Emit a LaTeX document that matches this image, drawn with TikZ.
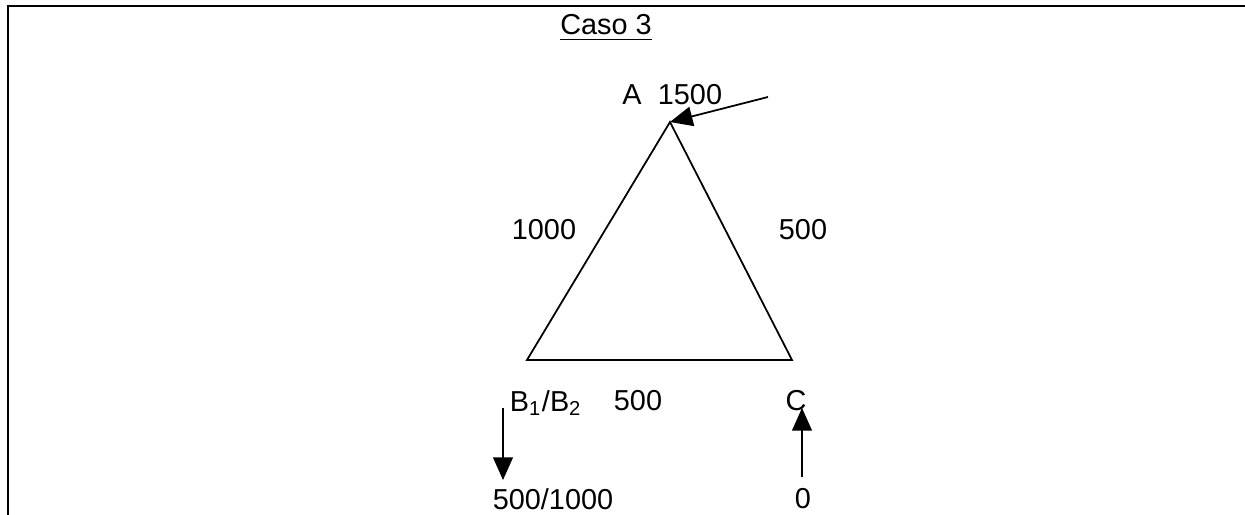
\documentclass[tikz,border=0pt]{standalone}
\usepackage{fontspec}
\setmainfont{Liberation Sans}
\usepackage{tikz}
\usetikzlibrary{arrows.meta}

\begin{document}
\begin{tikzpicture}[
    x=0.01cm, y=-0.01cm,
    lbl/.style={inner sep=0pt, font=\fontsize{8.2}{9.8}\selectfont},
    edge/.style={line width=0.5pt, line join=miter},
    frame/.style={line width=0.65pt},
    arr/.style={-{Triangle[length=6.4pt, width=5.6pt]}, line width=0.5pt},
]
\useasboundingbox (0,0) rectangle (1245,515);

% Frame
\draw[frame] (8,515) -- (8,6) -- (1245,6);

% Title
\node[lbl] (title) at (606,28) {\underline{Caso 3}};

% Triangle vertices
\coordinate (A) at (670,122);
\coordinate (B) at (527,360);
\coordinate (C) at (792,360);
\draw[edge] (A) -- (B) -- (C) -- cycle;

% Labels
\node[lbl] (lA) at (632,95) {A};
\node[lbl] (lAval) at (690,95) {1500};
\node[lbl] (lAB) at (544,230) {1000};
\node[lbl] (lAC) at (803,230) {500};
\node[lbl] (lB) at (546,403) {B\textsubscript{1}/B\textsubscript{2}};
\node[lbl] (lBC) at (638,401) {500};
\node[lbl] (lC) at (796,401) {C};
\node[lbl] (outB) at (553,499) {500/1000};
\node[lbl] (inC) at (803,499) {0};

% Arrows
\coordinate (inA) at (768,97);
\coordinate (tB) at (503,408);
\coordinate (hB) at (503,480);
\coordinate (tC) at (802,477);
\coordinate (hC) at (802,408);
\draw[arr] (inA) -- (A);
\draw[arr] (tB) -- (hB);
\draw[arr] (tC) -- (hC);

\end{tikzpicture}
\end{document}
